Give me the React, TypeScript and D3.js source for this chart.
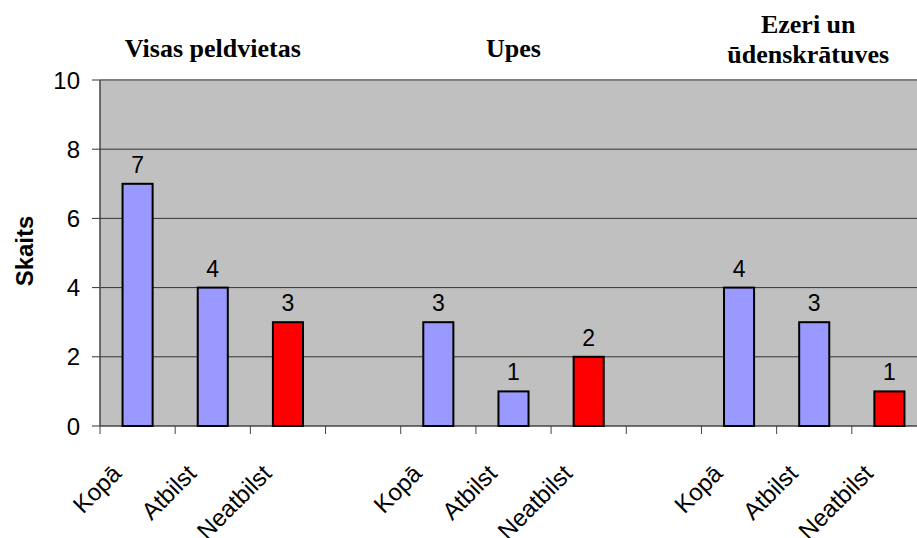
import React from 'react'
import * as d3 from 'd3'

const categories = ['Kopā', 'Atbilst', 'Neatbilst', '', 'Kopā', 'Atbilst', 'Neatbilst', '', 'Kopā', 'Atbilst', 'Neatbilst']
const values: (number | null)[] = [7, 4, 3, null, 3, 1, 2, null, 4, 3, 1]
const barColors = ['#9999FF', '#9999FF', '#FF0000', '', '#9999FF', '#9999FF', '#FF0000', '', '#9999FF', '#9999FF', '#FF0000']
const yTicks = [0, 2, 4, 6, 8, 10]
const groupTitles = [
  { lines: ['Visas peldvietas'], from: 0, to: 2 },
  { lines: ['Upes'], from: 4, to: 6 },
  { lines: ['Ezeri un', 'ūdenskrātuves'], from: 8, to: 10 },
]

export default function App() {
  const width = 917, height = 538
  const m = { left: 100, top: 80, bottom: 112 }
  const plotRight = 927
  const ids = categories.map((_, i) => String(i))
  const x = d3.scaleBand<string>().domain(ids).range([m.left, plotRight]).padding(0)
  const y = d3.scaleLinear().domain([0, 10]).range([height - m.bottom, m.top])
  const bw = x.bandwidth() * 0.4
  const arial = 'Arial, "Liberation Sans", sans-serif'
  const times = '"Times New Roman", "Liberation Serif", serif'
  const cx = (i: number) => (x(String(i)) ?? 0) + x.bandwidth() / 2

  return (
    <svg width={width} height={height} style={{ display: 'block', position: 'absolute', left: 0, top: 0 }}>
      <rect x={m.left} y={y(10)} width={plotRight - m.left} height={y(0) - y(10)} fill="#C0C0C0" />
      {yTicks.filter(t => t > 0).map(t => (
        <line key={t} x1={m.left} x2={plotRight} y1={y(t)} y2={y(t)} stroke={t === 10 ? '#808080' : '#333'} strokeWidth={t === 10 ? 2 : 1} />
      ))}
      {yTicks.map(t => (
        <g key={'yt' + t}>
          <line x1={m.left - 8} x2={m.left} y1={y(t)} y2={y(t)} stroke="#333" />
          <text x={m.left - 20} y={y(t)} dy="0.36em" textAnchor="end" fontFamily={arial} fontSize={24}>{t}</text>
        </g>
      ))}
      <line x1={m.left} x2={m.left} y1={y(10)} y2={y(0)} stroke="#444" strokeWidth={1.5} />
      <line x1={m.left} x2={plotRight} y1={y(0)} y2={y(0)} stroke="#444" strokeWidth={1.5} />
      {ids.map(id => (
        <line key={'xt' + id} x1={x(id)} x2={x(id)} y1={y(0)} y2={y(0) + 8} stroke="#444" />
      ))}
      {values.map((v, i) => v == null ? null : (
        <g key={'b' + i}>
          <rect x={cx(i) - bw / 2} y={y(v)} width={bw} height={y(0) - y(v)} fill={barColors[i]} stroke="#000" strokeWidth={2} />
          <text x={cx(i)} y={y(v) - 11} textAnchor="middle" fontFamily={arial} fontSize={23}>{v}</text>
        </g>
      ))}
      {categories.map((c, i) => c ? (
        <text key={'xl' + i} transform={`translate(${cx(i) - 15},${y(0) + 49}) rotate(-45)`} textAnchor="end" fontFamily={arial} fontSize={24}>{c}</text>
      ) : null)}
      <text transform={`translate(33,251) rotate(-90)`} textAnchor="middle" fontFamily={arial} fontSize={24} fontWeight="bold">Skaits</text>
      {groupTitles.map((g, gi) => {
        const mid = (cx(g.from) + cx(g.to)) / 2 - (gi === 2 ? 6 : 0)
        const y0 = g.lines.length > 1 ? 33 : 57
        return (
          <text key={'g' + gi} x={mid} y={y0} textAnchor="middle" fontFamily={times} fontSize={26} fontWeight="bold">
            {g.lines.map((l, li) => <tspan key={li} x={mid} dy={li === 0 ? 0 : 30}>{l}</tspan>)}
          </text>
        )
      })}
    </svg>
  )
}
